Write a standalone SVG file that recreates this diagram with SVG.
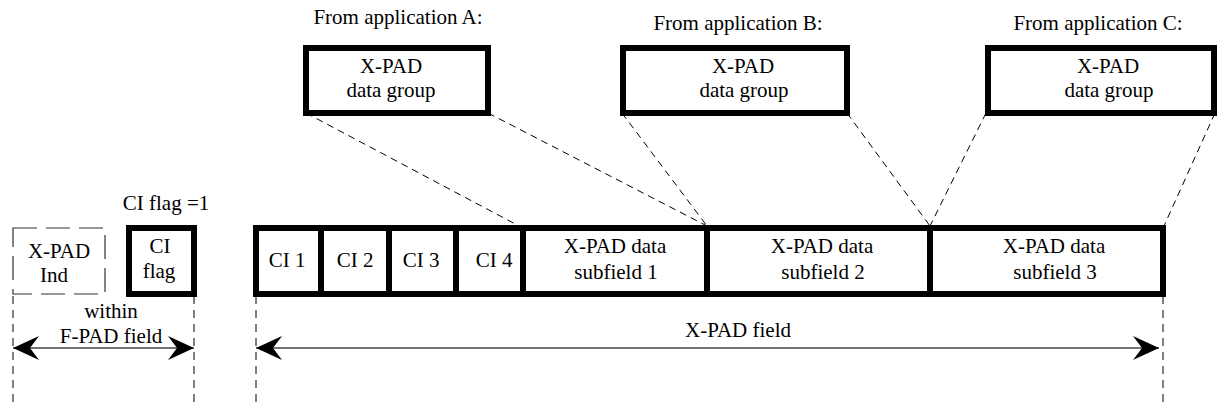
<svg xmlns="http://www.w3.org/2000/svg" width="1218" height="408" viewBox="0 0 1218 408">
<defs>
<style>
text{font-family:"Liberation Serif","Times New Roman",serif;font-size:21px;fill:#000;text-anchor:middle}
.box{fill:#fff;stroke:#000;stroke-width:6}
.div{stroke:#000;stroke-width:6;fill:none}
.dbox{fill:none;stroke:#333;stroke-width:1.2;stroke-dasharray:24 9}
.conn{stroke:#000;stroke-width:1;stroke-dasharray:7 5;fill:none}
.vd{stroke:#000;stroke-width:1;stroke-dasharray:8 6;fill:none}
.arr{stroke:#444;stroke-width:1.3;fill:none;marker-start:url(#ah);marker-end:url(#ah)}
</style>
<marker id="ah" viewBox="-27 -13 28 26" refX="0" refY="0" markerWidth="28" markerHeight="26" markerUnits="userSpaceOnUse" orient="auto-start-reverse">
<path d="M0,0 L-26,-12 L-17,0 L-26,12 Z" fill="#000"/>
</marker>
</defs>

<g id="connectors">
<line class="conn" x1="306" y1="113" x2="519" y2="226"/>
<line class="conn" x1="488" y1="113" x2="707" y2="226"/>
<line class="conn" x1="622" y1="113" x2="707" y2="226"/>
<line class="conn" x1="847" y1="113" x2="930" y2="226"/>
<line class="conn" x1="986" y1="113" x2="930" y2="226"/>
<line class="conn" x1="1215" y1="113" x2="1164" y2="226"/>
<line class="vd" x1="13" y1="296" x2="13" y2="408"/>
<line class="vd" x1="194" y1="296" x2="194" y2="408"/>
<line class="vd" x1="256" y1="296" x2="256" y2="408"/>
<line class="vd" x1="1163" y1="296" x2="1163" y2="408"/>
<line class="arr" x1="13" y1="348" x2="194" y2="348"/>
<line class="arr" x1="256" y1="348" x2="1159" y2="348"/>
</g>

<g id="appA">
<text x="398" y="24">From application A:</text>
<rect class="box" x="306" y="48" width="182" height="65"/>
<text x="391" y="73">X-PAD</text>
<text x="391" y="97">data group</text>
</g>
<g id="appB">
<text x="738" y="30">From application B:</text>
<rect class="box" x="623" y="48" width="224" height="65"/>
<text x="743" y="73">X-PAD</text>
<text x="744" y="97">data group</text>
</g>
<g id="appC">
<text x="1098" y="30">From application C:</text>
<rect class="box" x="988" y="48" width="226" height="65"/>
<text x="1108" y="73">X-PAD</text>
<text x="1109" y="97">data group</text>
</g>

<g id="xpadInd">
<rect class="dbox" x="13" y="228" width="92" height="66"/>
<text x="59" y="258">X-PAD</text>
<text x="54" y="282">Ind</text>
</g>
<g id="ciFlag">
<text x="166" y="210">CI flag =1</text>
<rect class="box" x="129" y="228" width="65" height="66"/>
<text x="160" y="253">CI</text>
<text x="159" y="278">flag</text>
</g>
<g id="fpadLabel">
<text x="111" y="318">within</text>
<text x="111" y="343">F-PAD field</text>
</g>

<g id="xpadField">
<rect class="box" x="256" y="228" width="907" height="66"/>
<line class="div" x1="321" y1="228" x2="321" y2="294"/>
<line class="div" x1="389" y1="228" x2="389" y2="294"/>
<line class="div" x1="456" y1="228" x2="456" y2="294"/>
<line class="div" x1="523" y1="228" x2="523" y2="294"/>
<line class="div" x1="707" y1="228" x2="707" y2="294"/>
<line class="div" x1="930" y1="228" x2="930" y2="294"/>
</g>
<g id="ci1"><text x="287" y="267">CI 1</text></g>
<g id="ci2"><text x="355" y="267">CI 2</text></g>
<g id="ci3"><text x="421" y="267">CI 3</text></g>
<g id="ci4"><text x="494" y="267">CI 4</text></g>
<g id="sub1"><text x="615" y="253">X-PAD data</text><text x="616" y="279">subfield 1</text></g>
<g id="sub2"><text x="822" y="253">X-PAD data</text><text x="823" y="279">subfield  2</text></g>
<g id="sub3"><text x="1054" y="253">X-PAD data</text><text x="1055" y="279">subfield 3</text></g>
<g id="xpadFieldLabel"><text x="738" y="337">X-PAD field</text></g>
</svg>
